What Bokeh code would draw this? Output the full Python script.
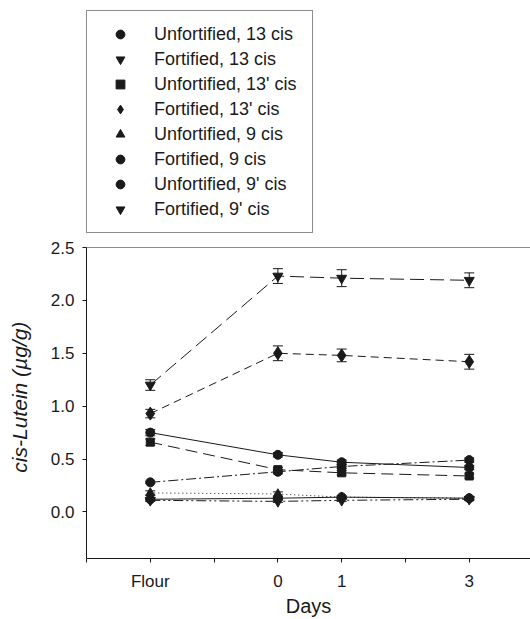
from bokeh.plotting import figure
from bokeh.layouts import column
from bokeh.models import (ColumnDataSource, Whisker, TeeHead, Legend, LegendItem,
                          FixedTicker, Span, Range1d, PrintfTickFormatter)
from bokeh.embed import file_html
from bokeh.resources import INLINE

# ---- data ----
x_pos = [-2, 0, 1, 3]
x_tick_positions = [-3, -2, -1, 0, 1, 2, 3]
x_tick_labels = {-3: "", -2: "Flour", -1: "", 0: "0", 1: "1", 2: "", 3: "3"}
y_ticks = [0.0, 0.5, 1.0, 1.5, 2.0, 2.5]

labels = ["Unfortified, 13 cis", "Fortified, 13 cis", "Unfortified, 13' cis",
          "Fortified, 13' cis", "Unfortified, 9 cis", "Fortified, 9 cis",
          "Unfortified, 9' cis", "Fortified, 9' cis"]

unf_13 = [0.75, 0.54, 0.47, 0.42]
unf_13_err = [0.03, 0.02, 0.02, 0.02]
fort_13 = [1.20, 2.23, 2.21, 2.19]
fort_13_err = [0.05, 0.07, 0.08, 0.07]
unf_13p = [0.66, 0.40, 0.37, 0.34]
unf_13p_err = [0.03, 0.02, 0.02, 0.02]
fort_13p = [0.93, 1.50, 1.48, 1.42]
fort_13p_err = [0.04, 0.07, 0.06, 0.07]
unf_9 = [0.18, 0.17, 0.14, 0.13]
unf_9_err = [0.02, 0.02, 0.01, 0.01]
fort_9 = [0.28, 0.38, 0.43, 0.49]
fort_9_err = [0.01, 0.02, 0.02, 0.02]
unf_9p = [0.12, 0.13, 0.14, 0.13]
unf_9p_err = [0.01, 0.01, 0.01, 0.01]
fort_9p = [0.11, 0.10, 0.11, 0.12]
fort_9p_err = [0.01, 0.01, 0.01, 0.01]

series = [unf_13, fort_13, unf_13p, fort_13p, unf_9, fort_9, unf_9p, fort_9p]
errors = [unf_13_err, fort_13_err, unf_13p_err, fort_13p_err,
          unf_9_err, fort_9_err, unf_9p_err, fort_9p_err]
markers = ["circle", "inverted_triangle", "square", "diamond",
           "triangle", "circle", "circle", "inverted_triangle"]
sizes = [9, 10, 8, 13, 9, 9, 9, 10]
dashes = ["solid", "14 6", "12 6", "8 5", "1 3", "10 3 2 3", "solid", "10 3 2 3 2 3"]

INK = "#1a1a1a"
FONT = "Liberation Sans"

# ---------- legend panel (top) ----------
top = figure(width=530, height=237, output_backend="svg", toolbar_location=None,
             x_range=Range1d(100, 101), y_range=Range1d(100, 101),
             min_border=0)
top.axis.visible = False
top.grid.visible = False
top.outline_line_color = None
top.border_fill_color = "white"

items = []
for lab, ys, mk, sz in zip(labels, series, markers, sizes):
    # same data; the ranges keep these points off-screen so only legend swatches show
    src = ColumnDataSource(dict(x=x_pos, y=ys))
    r = top.scatter("x", "y", source=src, marker=mk, size=sz,
                    fill_color=INK, line_color=INK)
    items.append(LegendItem(label=lab, renderers=[r]))

legend = Legend(items=items, location=(0, 4), margin=0, padding=12,
                glyph_width=42, glyph_height=22, label_height=22,
                label_width=146, spacing=3, label_standoff=13,
                border_line_color=INK, border_line_width=1,
                background_fill_color="white", background_fill_alpha=1.0,
                label_text_font=FONT, label_text_font_size="18px",
                label_text_color=INK)
top.add_layout(legend, "center")

# ---------- chart ----------
p = figure(width=530, height=382, output_backend="svg", toolbar_location=None,
           x_range=Range1d(-3, 3.96), y_range=Range1d(-0.44, 2.5),
           min_border_left=86, min_border_right=0, min_border_top=10,
           min_border_bottom=54)
p.outline_line_color = None
p.xgrid.visible = False
p.ygrid.visible = False
p.background_fill_color = "white"
p.border_fill_color = "white"

p.xaxis.ticker = FixedTicker(ticks=x_tick_positions)
p.xaxis.major_label_overrides = x_tick_labels
p.yaxis.ticker = FixedTicker(ticks=y_ticks)
p.yaxis.formatter = PrintfTickFormatter(format="%.1f")
for ax in (p.xaxis[0], p.yaxis[0]):
    ax.axis_line_color = INK
    ax.major_tick_line_color = INK
    ax.major_tick_in = 0
    ax.major_tick_out = 4
    ax.minor_tick_line_color = None
    ax.major_label_text_font = FONT
    ax.major_label_text_font_size = "17px"
    ax.major_label_text_color = INK
    ax.axis_label_text_font = FONT
    ax.axis_label_text_color = INK
p.yaxis.major_label_standoff = 8
p.xaxis.major_label_standoff = 9
p.xaxis.axis_label = "Days"
p.xaxis.axis_label_text_font_size = "20px"
p.xaxis.axis_label_text_font_style = "normal"
p.xaxis.axis_label_standoff = 1
p.yaxis.axis_label = "\u00a0" * 2 + "cis-Lutein (\u00b5g/g)"
p.yaxis.axis_label_text_font_size = "21px"
p.yaxis.axis_label_text_font_style = "italic"
p.yaxis.axis_label_standoff = 17

# top frame line
p.add_layout(Span(location=2.5, dimension="width", line_color=INK, line_width=1))

for ys, es, mk, sz, dash in zip(series, errors, markers, sizes, dashes):
    src = ColumnDataSource(dict(x=x_pos, y=ys,
                                lo=[a - b for a, b in zip(ys, es)],
                                hi=[a + b for a, b in zip(ys, es)]))
    p.line("x", "y", source=src, line_color=INK, line_width=1, line_dash=dash)
    p.add_layout(Whisker(source=src, base="x", lower="lo", upper="hi",
                         line_color=INK, line_width=1,
                         upper_head=TeeHead(size=10, line_color=INK, line_width=1),
                         lower_head=TeeHead(size=10, line_color=INK, line_width=1)))
    p.scatter("x", "y", source=src, marker=mk, size=sz,
              fill_color=INK, line_color=INK)

layout = column(top, p, spacing=0)
open("out.html", "w").write(file_html(layout, INLINE))
